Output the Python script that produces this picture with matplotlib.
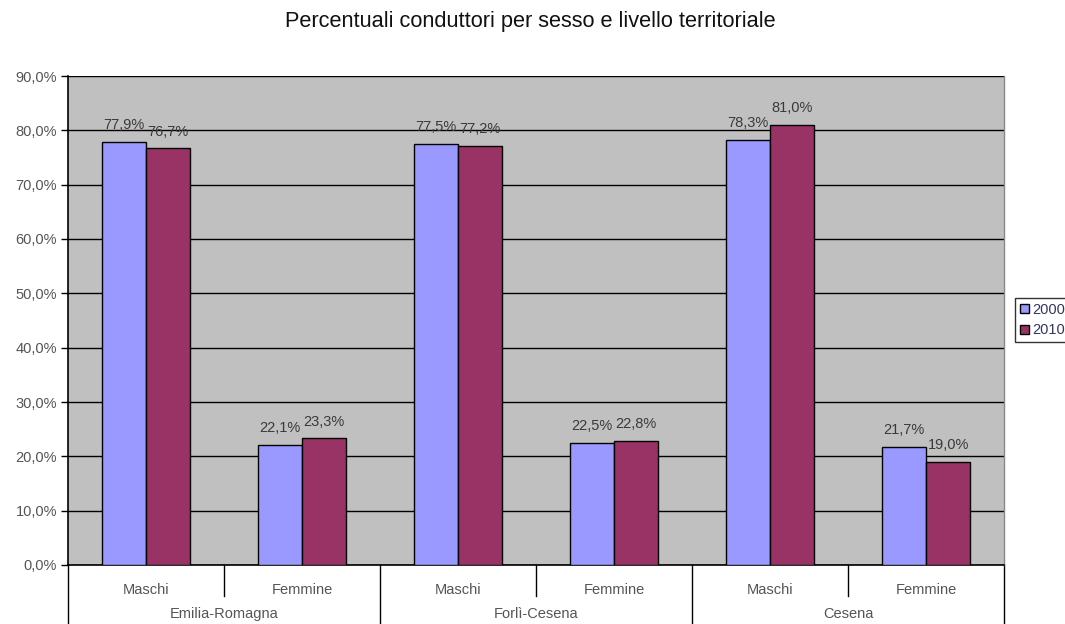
import matplotlib
matplotlib.use("Agg")
import matplotlib.pyplot as plt
from matplotlib.patches import Patch
from matplotlib.lines import Line2D
import numpy as np

plt.rcParams['font.family'] = ['Liberation Sans', 'DejaVu Sans']

title = "Percentuali conduttori per sesso e livello territoriale"
groups = ["Emilia-Romagna", "Forlì-Cesena", "Cesena"]
sexes = ["Maschi", "Femmine"]
series_names = ["2000", "2010"]
values_2000 = [77.9, 22.1, 77.5, 22.5, 78.3, 21.7]
values_2010 = [76.7, 23.3, 77.2, 22.8, 81.0, 19.0]
y_ticks = [0, 10, 20, 30, 40, 50, 60, 70, 80, 90]

c2000 = "#9999FF"
c2010 = "#993366"
bg = "#C0C0C0"
txt = "#555555"
fs = 10.5

W, H = 1065, 624
fig = plt.figure(figsize=(W / 100, H / 100), dpi=100)
ax = fig.add_axes([68 / W, 1 - 565 / H, (1004 - 68) / W, (565 - 76) / H])
ax.set_facecolor(bg)

n = len(values_2000)
x = np.arange(n)
bw = 0.285
b1 = ax.bar(x - bw / 2, values_2000, bw, color=c2000, edgecolor="black", linewidth=1.0, zorder=3)
b2 = ax.bar(x + bw / 2, values_2010, bw, color=c2010, edgecolor="black", linewidth=1.0, zorder=3)

def fmt(v):
    return f"{v:.1f}%".replace(".", ",")

for bars, vals in ((b1, values_2000), (b2, values_2010)):
    for r, v in zip(bars, vals):
        ax.annotate(fmt(v), (r.get_x() + r.get_width() / 2, v), xytext=(0, 7),
                    textcoords="offset points", ha="center", va="bottom",
                    fontsize=fs, color="#3a3a3a", zorder=4)

ax.set_xlim(-0.5, n - 0.5)
ax.set_ylim(0, 90)
ax.set_yticks(y_ticks)
ax.set_yticklabels([f"{t:.1f}%".replace(".", ",") for t in y_ticks], fontsize=fs, color=txt)
ax.yaxis.grid(True, color="black", linewidth=1.0, zorder=1)
ax.set_axisbelow(True)
ax.tick_params(axis="y", direction="out", length=5, width=1, color="black", pad=3)

ax.set_xticks(x)
ax.set_xticklabels([sexes[i % 2] for i in range(n)], fontsize=fs, color=txt)
ax.tick_params(axis="x", length=0, pad=13)

for s in ("left", "bottom"):
    ax.spines[s].set_color("black")
    ax.spines[s].set_linewidth(1.2)
ax.spines["top"].set_visible(False)
ax.spines["right"].set_color("#888888")
ax.spines["right"].set_linewidth(1.0)

# separators below axis
trans = ax.get_xaxis_transform()
axh_px = 565 - 76
for xs in [0.5, 2.5, 4.5]:
    ax.add_line(Line2D([xs, xs], [0, -31 / axh_px], transform=trans, color="black",
                       linewidth=1.0, clip_on=False))
for xs in [-0.5, 1.5, 3.5, 5.5]:
    ax.add_line(Line2D([xs, xs], [0, -62 / axh_px], transform=trans, color="black",
                       linewidth=1.0, clip_on=False))
for gi, g in enumerate(groups):
    ax.text(2 * gi + 0.5, -49 / axh_px, g, transform=trans, ha="center", va="center",
            fontsize=fs, color=txt)

fig.text(530 / W, 1 - 22 / H, title, ha="center", va="center", fontsize=15.7, color="#111111")

handles = [Patch(facecolor=c2000, edgecolor="black"), Patch(facecolor=c2010, edgecolor="black")]
leg = fig.legend(handles, series_names, loc="center left", bbox_to_anchor=(1015 / W, 1 - 320 / H),
                 fontsize=fs, frameon=True, fancybox=False, edgecolor="black",
                 handlelength=0.6, handleheight=0.6, handletextpad=0.2, borderpad=0.35,
                 labelspacing=0.45, borderaxespad=0)
leg.get_frame().set_linewidth(1.0)
for t in leg.get_texts():
    t.set_color("#333366")

fig.savefig("out.png", dpi=100)
